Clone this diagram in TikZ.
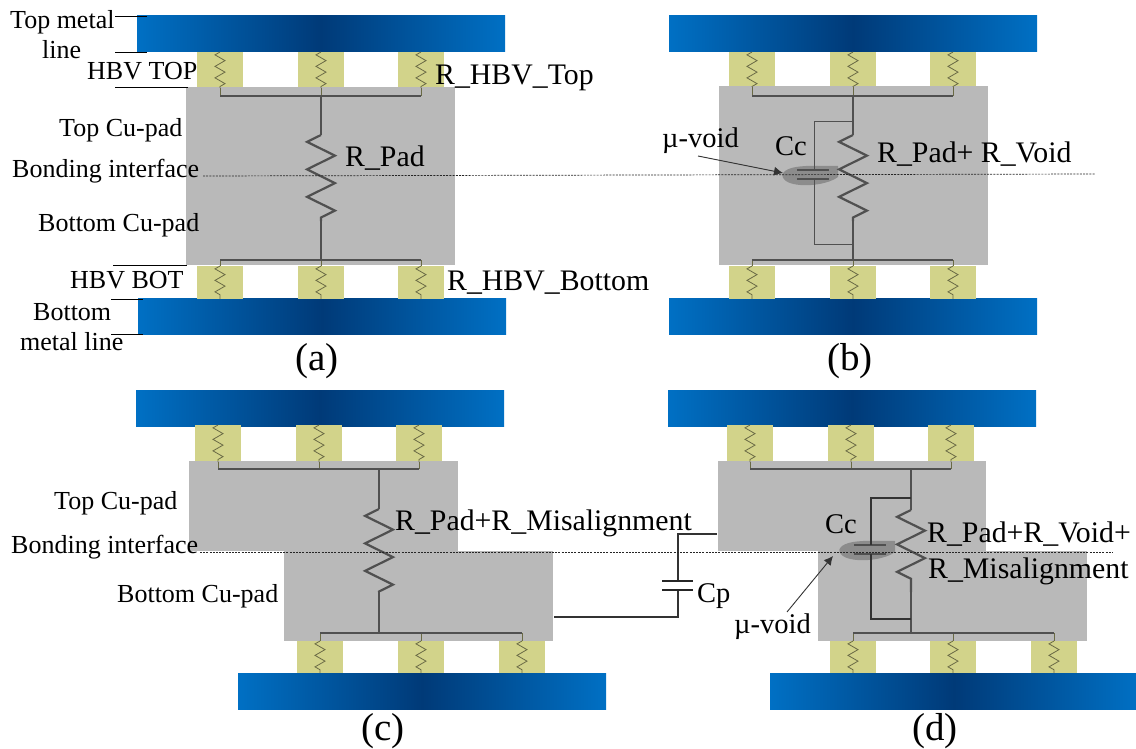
\documentclass[tikz,border=0pt]{standalone}
\usepackage{fontspec}
\setmainfont{Liberation Serif}
\usetikzlibrary{decorations.pathmorphing,arrows.meta}
\definecolor{viacol}{HTML}{D2D38A}
\definecolor{padcol}{HTML}{B9B9B9}
\definecolor{metalA}{HTML}{0070C4}
\definecolor{metalB}{HTML}{003A78}
\definecolor{wirecol}{HTML}{505050}
\definecolor{zigcol}{HTML}{6A6A45}
\definecolor{voidcol}{HTML}{8C8C8C}
\tikzset{
  metalbar/.style={inner sep=0,outer sep=0,left color=metalA,right color=metalA,middle color=metalB,minimum width=368pt,minimum height=36pt,anchor=north west},
  viabox/.style={inner sep=0,outer sep=0,fill=viacol,anchor=north,minimum width=46pt},
  padbox/.style={inner sep=0,outer sep=0,fill=padcol,anchor=north west},
  lab/.style={anchor=base west,inner sep=0,font=\fontsize{26}{28}\selectfont},
  rlab/.style={anchor=base west,inner sep=0,font=\fontsize{29.8}{32}\selectfont},
  clab/.style={anchor=base west,inner sep=0,font=\fontsize{28.5}{30}\selectfont},
  sub/.style={anchor=base west,inner sep=0,font=\fontsize{39}{42}\selectfont},
  leader/.style={draw=black,line width=0.7pt},
  busline/.style={draw=wirecol,line width=2.2pt},
  mainwire/.style={draw=wirecol,line width=2.2pt},
  mainres/.style={mainwire,decorate,decoration={zigzag,segment length=27.5pt,amplitude=14pt,mirror}},
  tinywire/.style={draw=zigcol,line width=0.8pt},
  tinyres/.style={tinywire,decorate,decoration={zigzag,segment length=11.5pt,amplitude=5pt,mirror}},
  thinwire/.style={draw=wirecol,line width=1pt},
  darkwire/.style={draw=black!80,line width=1.1pt},
  capplate/.style={draw=wirecol,line width=1.4pt},
  darkplate/.style={draw=black!85,line width=1.6pt},
  iface/.style={draw=black!85,line width=0.7pt,dash pattern=on 2pt off 1.2pt},
  ptr/.style={draw=black!80,line width=0.9pt,-{Latex[length=9pt,width=9pt]}},
}
% name x y
\newcommand\metalat[3]{\node[metalbar] (#1) at (#2,#3) {};}
% name xcentre ytop ybot ybar
\newcommand\viaat[5]{%
  \pgfmathsetmacro\vh{#4-#3}
  \node[viabox,minimum height=\vh pt] (#1) at (#2,#3) {};
  \coordinate (#1t) at (#2,#3);
  \coordinate (#1b) at (#2,#4);
  \coordinate (#1j) at (#2,#5);
}
\newcommand\viatop[1]{\draw[tinyres] (#1t) -- (#1b); \draw[tinywire] (#1b) -- (#1j);}
\newcommand\viabot[1]{\draw[tinyres] (#1t) -- (#1b); \draw[tinywire] (#1t) -- (#1j);}
% name x1 y1 x2 y2
\newcommand\padat[5]{%
  \pgfmathsetmacro\pw{#4-#2}\pgfmathsetmacro\ph{#5-#3}
  \node[padbox,minimum width=\pw pt,minimum height=\ph pt] (#1) at (#2,#3) {};
}
% prefix x ytop yz1 yz2 ybot
\newcommand\mainR[6]{%
  \coordinate (#1a) at (#2,#3);\coordinate (#1b) at (#2,#4);
  \coordinate (#1c) at (#2,#5);\coordinate (#1d) at (#2,#6);
  \draw[mainwire] (#1a) -- (#1b);
  \draw[mainres] (#1b) -- (#1c);
  \draw[mainwire] (#1c) -- (#1d);
}
% prefix: void with capacitor; x = left of void, y = top of void
\newcommand\voidcap[3]{%
  \begin{scope}[shift={(#2,#3)}]
    \fill[voidcol] (56,0) -- (56,11) .. controls (44,20) and (14,22) .. (4,15)
      .. controls (-4,9) and (2,3) .. (14,1) .. controls (26,-1) and (44,0) .. (56,0) -- cycle;
    \coordinate (#1p) at (32,4);
    \coordinate (#1q) at (32,13);
    \draw[capplate] (15,4) -- (47,4);
    \draw[capplate] (15,13) -- (47,13);
  \end{scope}
}
\begin{document}
\begin{tikzpicture}[x=1pt,y=-1pt]
\useasboundingbox (0,0) rectangle (1136,749);

% ---------- panel a
\metalat{ma}{137}{16}
\metalat{mb}{138}{298}
\viaat{at1}{220}{52}{88}{96}\viaat{at2}{321}{52}{88}{96}\viaat{at3}{421}{52}{88}{96}
\viaat{ab1}{220}{266}{299}{260}\viaat{ab2}{321}{266}{299}{260}\viaat{ab3}{421}{266}{299}{260}
\padat{apad}{186}{87}{455}{265}
\viatop{at1}\viatop{at2}\viatop{at3}
\viabot{ab1}\viabot{ab2}\viabot{ab3}
\draw[busline] (at1j) -- (at3j);
\draw[busline] (ab1j) -- (ab3j);
\mainR{ar}{321}{96}{135}{221}{260}

% ---------- panel b
\metalat{mc}{669}{16}
\metalat{md}{669}{298}
\viaat{bt1}{752}{52}{87}{96}\viaat{bt2}{853}{52}{87}{96}\viaat{bt3}{953}{52}{87}{96}
\viaat{bb1}{752}{266}{299}{260}\viaat{bb2}{853}{266}{299}{260}\viaat{bb3}{953}{266}{299}{260}
\padat{bpad}{719}{86}{988}{265}
\viatop{bt1}\viatop{bt2}\viatop{bt3}
\viabot{bb1}\viabot{bb2}\viabot{bb3}
\draw[busline] (bt1j) -- (bt3j);
\draw[busline] (bb1j) -- (bb3j);
\voidcap{bv}{782}{166}
\mainR{br}{853}{96}{135}{221}{260}
\coordinate (bjt) at (853,122);\coordinate (bjb) at (853,244);
\draw[thinwire] (bjt) -| (bvp);
\draw[thinwire] (bjb) -| (bvq);

% ---------- panel c
\metalat{me}{136}{390}
\metalat{mf}{238}{673}
\viaat{ct1}{218}{425}{462}{469}\viaat{ct2}{319}{425}{462}{469}\viaat{ct3}{419}{425}{462}{469}
\viaat{cb1}{320}{641}{673}{633}\viaat{cb2}{421}{641}{673}{633}\viaat{cb3}{522}{641}{673}{633}
\padat{cpa}{189}{461}{458}{551}
\padat{cpb}{284}{551}{553}{641}
\viatop{ct1}\viatop{ct2}\viatop{ct3}
\viabot{cb1}\viabot{cb2}\viabot{cb3}
\draw[busline] (ct1j) -- (ct3j);
\draw[busline] (cb1j) -- (cb3j);
\mainR{cr}{379}{469}{509}{592}{633}

% ---------- panel d
\metalat{mg}{668}{390}
\metalat{mh}{770}{673}
\viaat{dt1}{750}{425}{462}{469}\viaat{dt2}{851}{425}{462}{469}\viaat{dt3}{951}{425}{462}{469}
\viaat{db1}{853}{641}{673}{633}\viaat{db2}{953}{641}{673}{633}\viaat{db3}{1054}{641}{673}{633}
\padat{dpa}{718}{461}{986}{551}
\padat{dpb}{818}{551}{1087}{641}
\viatop{dt1}\viatop{dt2}\viatop{dt3}
\viabot{db1}\viabot{db2}\viabot{db3}
\draw[busline] (dt1j) -- (dt3j);
\draw[busline] (db1j) -- (db3j);
\voidcap{dv}{839}{541}
\mainR{dr}{911}{469}{510}{592}{633}
\coordinate (djt) at (911,498);\coordinate (djb) at (911,619);
\draw[darkwire] (djt) -| (dvp);
\draw[darkwire] (djb) -| (dvq);

% ---------- Cp between the pads of c and d
\coordinate (cpt) at (678,581);\coordinate (cpb) at (678,590);
\coordinate (cpl) at (717,534);\coordinate (cpr) at (554,617);
\draw[darkwire] (cpl) -| (cpt);
\draw[darkwire] (cpr) -| (cpb);
\draw[darkplate] (662,581) -- (693,581);
\draw[darkplate] (662,590) -- (693,590);

% ---------- interfaces
\coordinate (ia) at (203,176);\coordinate (ib) at (1095,174);
\coordinate (ic) at (200,552);\coordinate (id) at (1113,552);
\draw[iface] (ia) -- (ib);
\draw[iface] (ic) -- (id);

% ---------- leaders
\coordinate (l1a) at (115,16);\coordinate (l1b) at (147,16);
\coordinate (l2a) at (115,52);\coordinate (l2b) at (147,52);
\coordinate (l3a) at (115,87);\coordinate (l3b) at (188,87);
\coordinate (l4a) at (113,265);\coordinate (l4b) at (187,265);
\coordinate (l5a) at (111,299);\coordinate (l5b) at (143,299);
\coordinate (l6a) at (111,334);\coordinate (l6b) at (143,334);
\foreach \k in {1,...,6} {\draw[leader] (l\k a) -- (l\k b);}

% ---------- labels
\node[lab] (t1) at (10,29) {Top metal};
\node[lab] (t2) at (42,59) {line};
\node[lab] (t3) at (87,80) {HBV TOP};
\node[lab] (t4) at (59,137) {Top Cu-pad};
\node[lab] (t5) at (12,178) {Bonding interface};
\node[lab] (t6) at (38,232) {Bottom Cu-pad};
\node[lab] (t7) at (70,288) {HBV BOT};
\node[lab] (t8) at (33,320) {Bottom};
\node[lab] (t9) at (20,350) {metal line};
\node[rlab] (r1) at (435,85) {R\_HBV\_Top};
\node[rlab] (r2) at (345,167) {R\_Pad};
\node[rlab] (r3) at (447,290) {R\_HBV\_Bottom};
\node[sub] (sa) at (295,370) {(a)};
\node[sub] (sb) at (827,370) {(b)};
\node[sub] (sc) at (361,740) {(c)};
\node[sub] (sd) at (912,740) {(d)};
\node[clab] (bvt) at (662,148) {µ-void};
\node[clab] (bcc) at (775,156) {Cc};
\node[rlab] (br1) at (877,163) {R\_Pad+ R\_Void};
\node[lab] (c1) at (54,509) {Top Cu-pad};
\node[lab] (c2) at (11,553) {Bonding interface};
\node[lab] (c3) at (117,602) {Bottom Cu-pad};
\node[rlab] (cr1) at (395,530) {R\_Pad+R\_Misalignment};
\node[clab] (dcc) at (825,533) {Cc};
\node[rlab] (dr1) at (927,542) {R\_Pad+R\_Void+};
\node[rlab] (dr2) at (928,578) {R\_Misalignment};
\node[clab] (cpn) at (697,602) {Cp};
\node[clab] (dvt) at (734,633) {µ-void};

% ---------- pointers
\coordinate (pa) at (698,156);\coordinate (pb) at (783,173);
\coordinate (pc) at (787,612);\coordinate (pd) at (833,556);
\draw[ptr] (pa) -- (pb);
\draw[ptr] (pc) -- (pd);
\end{tikzpicture}
\end{document}
